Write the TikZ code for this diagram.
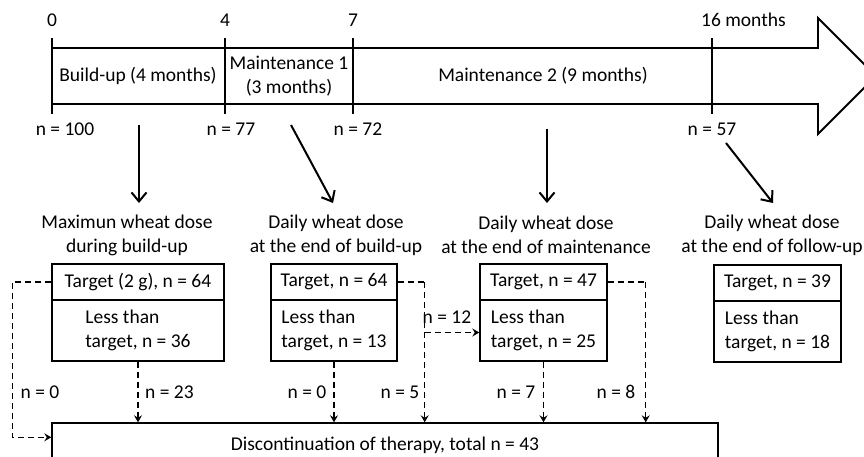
\documentclass[tikz,border=0pt]{standalone}
\usepackage{fontspec}
\setmainfont{Carlito}
\usetikzlibrary{arrows.meta,calc}
\begin{document}
\begin{tikzpicture}[x=1pt,y=-1pt,
  every node/.style={font=\fontsize{19.5}{24}\selectfont, inner sep=0pt},
  lbl/.style={},
  heading/.style={align=center},
  row/.style={draw, line width=1.4pt, align=left},
  band/.style={line width=1.9pt},
  solidarrow/.style={line width=2pt, -{Straight Barb[length=9pt,width=15pt]}},
  dasharrow/.style={line width=1.3pt, dash pattern=on 6pt off 4pt, -{Stealth[length=7pt,width=8pt,inset=2.5pt]}},
  dashline/.style={line width=1.3pt, dash pattern=on 6pt off 4pt}
]
\useasboundingbox (0,0) rectangle (864,456);

% timeline band
\draw[band, line join=miter] (52,48) -- (818,48) -- (818,18) -- (876,76) -- (818,134) -- (818,104) -- (52,104);
\foreach \x/\nm in {52/k0,225/k4,353/k7,712/k16}{
  \draw[band] (\x,38) coordinate (\nm top) -- (\x,114) coordinate (\nm bot);
}
\node[lbl] (m0) at (52,20) {0};
\node[lbl] (m4) at (225,20) {4};
\node[lbl] (m7) at (353,20) {7};
\node[lbl, anchor=west] (m16) at (701,20) {16 months};
\node[lbl] (n100) at (65,129) {n = 100};
\node[lbl] (n77) at (231,129) {n = 77};
\node[lbl] (n72) at (358,129) {n = 72};
\node[lbl] (n57) at (712,129) {n = 57};
\node[lbl] (p1) at (138,76) {Build-up (4 months)};
\node[heading] (p2) at (289,76) {Maintenance 1\\(3 months)};
\node[lbl] (p3) at (543,76) {Maintenance 2 (9 months)};

% headings
\node[heading] (h1) at (127,235) {Maximun wheat dose\\during build-up};
\node[heading] (h2) at (336,235) {Daily wheat dose\\at the end of build-up};
\node[heading] (h3) at (546,235) {Daily wheat dose\\at the end of maintenance};
\node[heading] (h4) at (772,235) {Daily wheat dose\\at the end of follow-up};

% solid arrows
\coordinate (s1) at (139,125); \coordinate (e1) at (139,203);
\coordinate (s2) at (291,125); \coordinate (e2) at (333,203);
\coordinate (s3) at (547,129); \coordinate (e3) at (547,203);
\coordinate (s4) at (726,143); \coordinate (e4) at (773,203);
\draw[solidarrow] (s1) -- (e1);
\draw[solidarrow] (s2) -- (e2);
\draw[solidarrow] (s3) -- (e3);
\draw[solidarrow] (s4) -- (e4);

% boxes
\node[row, minimum width=172, minimum height=36] (t1) at (138,282) {Target (2 g), n = 64};
\node[row, minimum width=172, minimum height=61] (l1) at (138,330.5) {Less than\\target, n = 36};
\node[row, minimum width=126, minimum height=36] (t2) at (334,282) {Target, n = 64};
\node[row, minimum width=126, minimum height=61] (l2) at (334,330.5) {Less than\\target, n = 13};
\node[row, minimum width=127, minimum height=36] (t3) at (543.5,282) {Target, n = 47};
\node[row, minimum width=127, minimum height=61] (l3) at (543.5,330.5) {Less than\\target, n = 25};
\node[row, minimum width=127, minimum height=36] (t4) at (777.5,283) {Target, n = 39};
\node[row, minimum width=127, minimum height=61] (l4) at (777.5,331.5) {Less than\\target, n = 18};

\node[draw, line width=1.4pt, minimum width=666, minimum height=44] (disc) at (385,445) {Discontinuation of therapy, total n = 43};

% dashed connectors
\draw[dasharrow] (t1.west) -- ++(-39,0) |- ($(disc.north west)+(0,15)$);
\draw[dasharrow] (l1.south) -- (l1.south |- disc.north);
\draw[dasharrow] (l2.south) -- (l2.south |- disc.north);
\draw[dashline] (t2.east) -- ++(27,0) coordinate (c4);
\draw[dasharrow] (c4) -- (c4 |- disc.north);
\draw[dasharrow] ($(c4 |- l3.west)+(0,2)$) -- ($(l3.west)+(0,2)$);
\draw[dasharrow] (l3.south) -- (l3.south |- disc.north);
\draw[dashline] (t3.east) -- ++(38,0) coordinate (c6);
\draw[dasharrow] (c6) -- (c6 |- disc.north);

\node[lbl] (q1) at (40,392) {n = 0};
\node[lbl, anchor=west] (q2) at (145,392) {n = 23};
\node[lbl] (q3) at (307,392) {n = 0};
\node[lbl] (q4) at (400,392) {n = 5};
\node[lbl] (q5) at (447,317) {n = 12};
\node[lbl] (q6) at (516,392) {n = 7};
\node[lbl] (q7) at (616,392) {n = 8};
\end{tikzpicture}
\end{document}
